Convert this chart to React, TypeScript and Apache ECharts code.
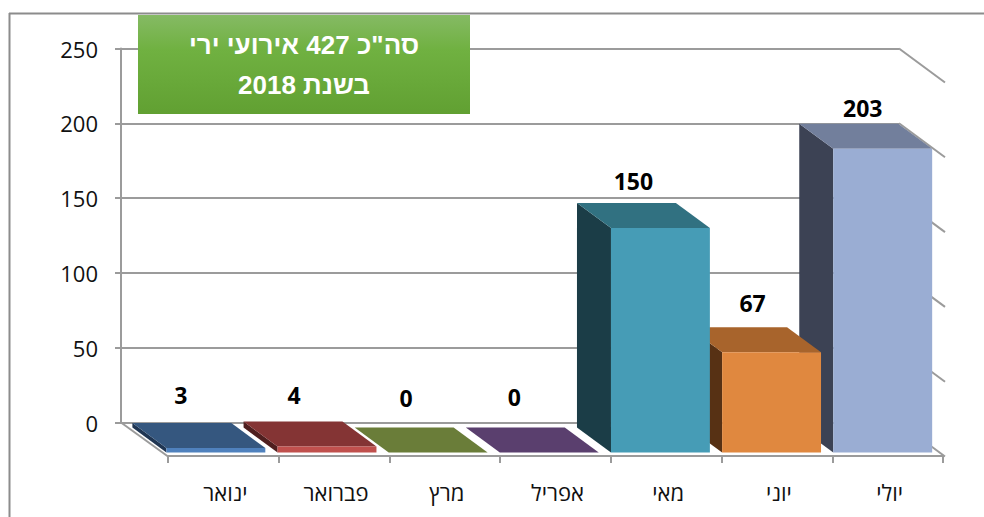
import React, { useEffect, useRef } from "react";
import * as echarts from "echarts";

const months = ["ינואר", "פברואר", "מרץ", "אפריל", "מאי", "יוני", "יולי"];
const events = [3, 4, 0, 0, 150, 67, 203];
const wallTicks = [0, 50, 100, 150, 200, 250];
const titleLines = ['סה"כ 427 אירועי ירי', "בשנת 2018"];
const frontColors = ["#4f81bd", "#c0504d", "#7f9a48", "#664d85", "#469cb6", "#e0883f", "#9aadd3"];
const topColors = ["#35577f", "#843434", "#6a7d39", "#5a3f6e", "#317181", "#a8642c", "#727f9c"];
const sideColors = ["#1f3552", "#4f1f1f", "#465426", "#3a2a47", "#1b3d47", "#573114", "#3c4254"];
const labelNudgeX = [-1, 1, 2, -1, 7, 15, 14];
const labelNudgeY = [-2, -1, -4, -5, 4, 2, 10];

const FONT = '"Open Sans", "Noto Sans", sans-serif';
const GRID_COLOR = "#9b9b9b";

export default function App() {
  const ref = useRef<HTMLDivElement>(null);
  useEffect(() => {
    const chart = echarts.init(ref.current!, undefined, { renderer: "svg" });
    chart.setOption({
      animation: false,
      backgroundColor: "#ffffff",
      grid: [
        { left: 121, right: 85, top: 48.5, bottom: 94.5, containLabel: false },
        { left: 168, right: 41, top: 48, bottom: 61, containLabel: false },
      ],
      xAxis: [
        { type: "category", gridIndex: 0, data: months, show: false },
        {
          type: "category",
          gridIndex: 1,
          data: months,
          axisLine: { show: true, lineStyle: { color: GRID_COLOR, width: 2 } },
          axisTick: { show: true, length: 7, lineStyle: { color: GRID_COLOR, width: 2 } },
          axisLabel: { margin: 25, fontFamily: FONT, fontSize: 22, color: "#111111", padding: [0, 0, 0, 4] },
        },
      ],
      yAxis: [
        {
          type: "value",
          gridIndex: 0,
          min: 0,
          max: 250,
          interval: 50,
          axisLine: { show: true, lineStyle: { color: GRID_COLOR, width: 2 } },
          axisTick: { show: true, length: 6, lineStyle: { color: GRID_COLOR, width: 2 } },
          splitLine: { show: true, lineStyle: { color: GRID_COLOR, width: 2 } },
          axisLabel: { margin: 23, fontFamily: FONT, fontSize: 22, color: "#111111", padding: [5, 0, 0, 0] },
        },
        { type: "value", gridIndex: 1, min: 0, max: 250, show: false },
      ],
      series: [
        {
          type: "custom",
          name: "wall",
          xAxisIndex: 0,
          yAxisIndex: 0,
          z: 1,
          silent: true,
          data: wallTicks.map((t) => [0, t]),
          renderItem: (_p: any, api: any) => {
            const v = api.value(1);
            const slot = api.size([1, 0])[0];
            const first = api.coord([0, v]);
            const last = api.coord([6, v]);
            const right = last[0] + slot / 2;
            const left = first[0] - slot / 2;
            const style = { stroke: GRID_COLOR, lineWidth: 2, fill: "none" };
            const children: any[] = [
              { type: "line", shape: { x1: right, y1: last[1], x2: right + 46, y2: last[1] + 34 }, style },
            ];
            if (v === 0) {
              children.push({ type: "line", shape: { x1: left, y1: first[1], x2: left + 47, y2: first[1] + 34 }, style });
            }
            return { type: "group", children };
          },
        },
        {
          type: "custom",
          name: "events",
          xAxisIndex: 0,
          yAxisIndex: 0,
          z: 3,
          silent: true,
          data: events.map((v, i) => [i, v]),
          renderItem: (_p: any, api: any) => {
            const i = api.value(0);
            const v = api.value(1);
            const slot = api.size([1, 0])[0];
            const top = api.coord([i, v]);
            const base = api.coord([i, 0]);
            const fl = top[0] - slot / 2 + 45.4;
            const w = slot * 0.89;
            const bl = fl - 34;
            const ft = top[1] + 30;
            const fb = base[1] + 30;
            const bt = top[1] + 5;
            const bb = base[1] + 5;
            const z2 = (7 - i) * 10;
            return {
              type: "group",
              children: [
                {
                  type: "polygon",
                  z2,
                  shape: { points: [[bl, bt], [fl, ft], [fl, fb], [bl, bb]] },
                  style: { fill: sideColors[i] },
                },
                {
                  type: "polygon",
                  z2: z2 + 1,
                  shape: { points: [[bl, bt], [bl + w, bt], [fl + w, ft], [fl, ft]] },
                  style: { fill: topColors[i] },
                },
                {
                  type: "rect",
                  z2: z2 + 2,
                  shape: { x: fl, y: ft, width: w, height: fb - ft },
                  style: { fill: frontColors[i] },
                },
                {
                  type: "text",
                  z2: 200,
                  style: {
                    text: String(events[i]),
                    x: bl + w / 2 + labelNudgeX[i],
                    y: bt - 26 + labelNudgeY[i],
                    align: "center",
                    verticalAlign: "middle",
                    font: `bold 23px ${FONT}`,
                    fill: "#000000",
                  },
                },
              ],
            };
          },
        },
      ],
      graphic: [
        { type: "line", z: 0, shape: { x1: 9.5, y1: 13, x2: 9.5, y2: 517 }, style: { stroke: "#8c8c8c", lineWidth: 2 } },
        { type: "line", z: 0, shape: { x1: 9, y1: 13.5, x2: 984, y2: 13.5 }, style: { stroke: "#8c8c8c", lineWidth: 2 } },
        {
          type: "rect",
          z: 10,
          shape: { x: 138, y: 15, width: 332, height: 99 },
          style: {
            fill: new echarts.graphic.LinearGradient(0, 0, 0, 1, [
              { offset: 0, color: "#85ba64" },
              { offset: 0.35, color: "#70b141" },
              { offset: 1, color: "#61a032" },
            ]),
          },
        },
        {
          type: "text",
          z: 11,
          x: 304,
          y: 45,
          style: { text: titleLines[0], align: "center", verticalAlign: "middle", font: 'bold 26px "Liberation Sans", sans-serif', fill: "#ffffff" },
        },
        {
          type: "text",
          z: 11,
          x: 304,
          y: 85,
          style: { text: titleLines[1], align: "center", verticalAlign: "middle", font: 'bold 26px "Liberation Sans", sans-serif', fill: "#ffffff" },
        },
      ],
    });
    return () => chart.dispose();
  }, []);
  return <div ref={ref} style={{ position: "absolute", left: 0, top: 0, width: 984, height: 517 }} />;
}
